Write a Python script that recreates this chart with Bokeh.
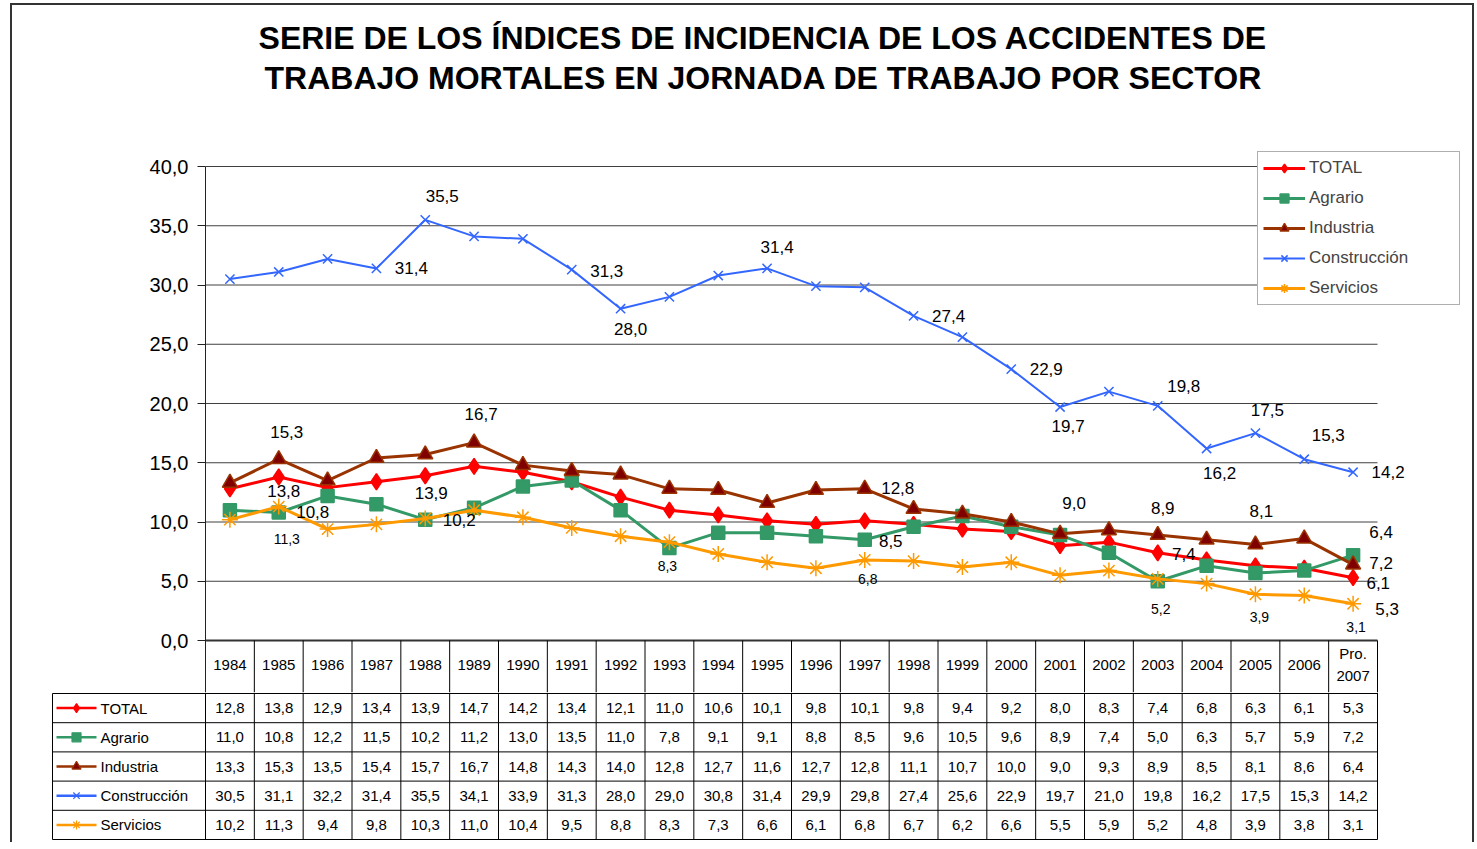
from bokeh.plotting import figure
from bokeh.models import Range1d, FixedTicker, Legend, LegendItem, ColumnDataSource
from bokeh.layouts import column
from bokeh.embed import file_html
from bokeh.resources import INLINE
from bokeh.core.properties import value

# ---------------- data ----------------
years = ["1984", "1985", "1986", "1987", "1988", "1989", "1990", "1991", "1992", "1993",
         "1994", "1995", "1996", "1997", "1998", "1999", "2000", "2001", "2002", "2003",
         "2004", "2005", "2006", "Pro.\n2007"]
total = [12.8, 13.8, 12.9, 13.4, 13.9, 14.7, 14.2, 13.4, 12.1, 11.0, 10.6, 10.1, 9.8, 10.1,
         9.8, 9.4, 9.2, 8.0, 8.3, 7.4, 6.8, 6.3, 6.1, 5.3]
agrario = [11.0, 10.8, 12.2, 11.5, 10.2, 11.2, 13.0, 13.5, 11.0, 7.8, 9.1, 9.1, 8.8, 8.5,
           9.6, 10.5, 9.6, 8.9, 7.4, 5.0, 6.3, 5.7, 5.9, 7.2]
industria = [13.3, 15.3, 13.5, 15.4, 15.7, 16.7, 14.8, 14.3, 14.0, 12.8, 12.7, 11.6, 12.7, 12.8,
             11.1, 10.7, 10.0, 9.0, 9.3, 8.9, 8.5, 8.1, 8.6, 6.4]
construccion = [30.5, 31.1, 32.2, 31.4, 35.5, 34.1, 33.9, 31.3, 28.0, 29.0, 30.8, 31.4, 29.9, 29.8,
                27.4, 25.6, 22.9, 19.7, 21.0, 19.8, 16.2, 17.5, 15.3, 14.2]
servicios = [10.2, 11.3, 9.4, 9.8, 10.3, 11.0, 10.4, 9.5, 8.8, 8.3, 7.3, 6.6, 6.1, 6.8,
             6.7, 6.2, 6.6, 5.5, 5.9, 5.2, 4.8, 3.9, 3.8, 3.1]
series_names = ["TOTAL", "Agrario", "Industria", "Construcción", "Servicios"]
y_ticks = [0, 5, 10, 15, 20, 25, 30, 35, 40]
y_tick_labels = ["0,0", "5,0", "10,0", "15,0", "20,0", "25,0", "30,0", "35,0", "40,0"]
title_lines = ["SERIE DE LOS ÍNDICES DE INCIDENCIA DE LOS ACCIDENTES DE",
               "TRABAJO MORTALES EN JORNADA DE TRABAJO POR SECTOR"]

values = dict(zip(series_names, [total, agrario, industria, construccion, servicios]))

# ---------------- styles ----------------
styles = {
    "TOTAL": dict(color="#FF0000", marker="diamond", size=16, fill="#FF0000", mline="#FF0000", lw=3),
    "Agrario": dict(color="#339966", marker="square", size=13, fill="#339966", mline="#339966", lw=3),
    "Industria": dict(color="#993300", marker="triangle", size=15, fill="#800000", mline="#993300", lw=3),
    "Construcción": dict(color="#3366FF", marker="x", size=13, fill="#3366FF", mline="#3366FF", lw=2),
    "Servicios": dict(color="#FF9900", marker="asterisk", size=16, fill="#FF9900", mline="#FF9900", lw=3),
}

# label placement: (series, index, dx px, dy px, small)
label_place = [
    ("Construcción", 4, 17, -24, False), ("Construcción", 3, 35, 0, False),
    ("Construcción", 7, 35, 1, False), ("Construcción", 8, 10, 20, False),
    ("Construcción", 11, 10, -21, False), ("Construcción", 14, 35, 0, False),
    ("Construcción", 16, 35, 0, False), ("Construcción", 17, 8, 19, False),
    ("Construcción", 19, 26, -20, False), ("Construcción", 20, 13, 24, False),
    ("Construcción", 21, 12, -23, False), ("Construcción", 22, 24, -24, False),
    ("Construcción", 23, 35, 0, False),
    ("Industria", 1, 8, -27, False), ("Industria", 5, 7, -29, False),
    ("TOTAL", 1, 5, 14, False), ("Agrario", 1, 34, -1, False), ("Servicios", 1, 8, 32, True),
    ("TOTAL", 4, 6, 17, False), ("Agrario", 4, 34, 0, False), ("Servicios", 9, -2, 24, True),
    ("Industria", 13, 33, -1, False), ("Agrario", 13, 26, 1, False), ("Servicios", 13, 3, 19, True),
    ("Industria", 17, 14, -31, False), ("Industria", 19, 5, -27, False),
    ("TOTAL", 19, 26, 1, False), ("Servicios", 19, 3, 30, True),
    ("Industria", 21, 6, -34, False), ("Servicios", 21, 4, 23, True),
    ("Industria", 23, 28, -33, False), ("Agrario", 23, 28, 8, False),
    ("TOTAL", 22, 74, 15, False), ("TOTAL", 23, 34, 31, False), ("Servicios", 23, 3, 23, True),
]


def fmt(v):
    return f"{v:.1f}".replace(".", ",")


FONT = "Liberation Sans"
n = len(years)
xs = list(range(n))

# geometry (page px)
X0, Y0 = 12, 5            # page position of figures' top-left
FIG_W = 1460
PX_X = 1172 / 24          # px per category
PX_Y = 474 / 40           # px per unit
PX_R = 29.2               # table row height
AX_L, AX_R, AX_TOP, AX_BOT = 205, 1377, 166, 640
FR_L, FR_R, FR_T, FR_B = 205, 1460, Y0, 692   # chart frame (extended for title, legend, header)
GAP_U = (FR_B - AX_BOT) / PX_Y
X_END = 23.5 + (FR_R - AX_R) / PX_X
Y_END = 40 + (AX_TOP - FR_T) / PX_Y


def px_to_y(py):
    return 40 + (AX_TOP - py) / PX_Y


def px_to_x(px):
    return -0.5 + (px - AX_L) / PX_X


# ---------------- chart figure ----------------
pA = figure(width=FIG_W, height=FR_B - Y0, title=None,
            x_range=Range1d(-0.5, X_END), y_range=Range1d(-GAP_U, Y_END),
            x_axis_location=None, output_backend="svg", toolbar_location=None,
            min_border_left=FR_L - X0, min_border_right=X0 + FIG_W - FR_R,
            min_border_top=0, min_border_bottom=0, outline_line_color=None)
pA.frame_align = False
pA.xgrid.visible = False
pA.ygrid.visible = False
pA.yaxis.bounds = (-GAP_U, 40)
pA.yaxis.ticker = FixedTicker(ticks=y_ticks)
pA.yaxis.major_label_overrides = {t: l for t, l in zip(y_ticks, y_tick_labels)}
pA.yaxis.minor_tick_line_color = None
pA.yaxis.major_tick_in = 0
pA.yaxis.major_tick_out = 8
pA.yaxis.major_label_standoff = 9
pA.yaxis.axis_line_color = "#222222"
pA.yaxis.major_tick_line_color = "#222222"
pA.yaxis.major_label_text_font = FONT
pA.yaxis.major_label_text_font_size = "20px"
pA.yaxis.major_label_text_color = "black"

# title (two bold lines)
pA.text(x=[px_to_x(763)] * 2, y=[px_to_y(37), px_to_y(77)], text=title_lines,
        text_align="center", text_baseline="middle", text_font=value(FONT),
        text_font_size="32px", text_font_style="bold", text_color="black")

# grid lines restricted to the category span
g = [t for t in y_ticks if t > 0]
pA.segment(x0=[-0.5] * len(g), y0=g, x1=[n - 0.5] * len(g), y1=g, line_color="#404040", line_width=1)
pA.segment(x0=[-0.5], y0=[0], x1=[n - 0.5], y1=[0], line_color="#333333", line_width=2)

# table header cells (years) below the axis
bounds = [i + 0.5 for i in range(n)]
pA.segment(x0=bounds, y0=[0] * n, x1=bounds, y1=[-GAP_U] * n, line_color="black", line_width=1)
pA.text(x=xs, y=[-(664 - AX_BOT) / PX_Y] * n, text=years, text_align="center", text_baseline="middle",
        text_font=value(FONT), text_font_size="15px", text_color="black", text_line_height=1.27)

items = []
for name in series_names:
    st = styles[name]
    src = ColumnDataSource(dict(x=xs, y=values[name]))
    ln = pA.line("x", "y", source=src, line_color=st["color"], line_width=st["lw"])
    mk = pA.scatter("x", "y", source=src, marker=st["marker"], size=st["size"],
                    fill_color=st["fill"], line_color=st["mline"], line_width=1.5)
    items.append(LegendItem(label=name, renderers=[ln, mk]))

for small in (False, True):
    sel = [p for p in label_place if p[4] == small]
    src = ColumnDataSource(dict(
        x=[p[1] for p in sel], y=[values[p[0]][p[1]] for p in sel],
        t=[fmt(values[p[0]][p[1]]) for p in sel],
        dx=[p[2] for p in sel], dy=[p[3] for p in sel]))
    pA.text("x", "y", text="t", source=src, x_offset="dx", y_offset="dy",
            text_align="center", text_baseline="middle", text_font=value(FONT),
            text_font_size="14px" if small else "17px", text_color="black")

legend = Legend(items=items, location=(1257 - FR_L, FR_B - 305), orientation="vertical",
                border_line_color="#606060", border_line_width=1, background_fill_color="white",
                background_fill_alpha=1, padding=5, spacing=8, margin=0,
                glyph_width=42, glyph_height=22, label_height=22, label_width=145,
                label_standoff=4, label_text_font=FONT, label_text_font_size="17px")
pA.add_layout(legend)

# ---------------- table figure ----------------
left_edge = -0.5 - 153 / PX_X
TB_L, TB_R, TB_T, TB_B = 51, 1378, 691, 839
HEAD_U = (692 - TB_T) / PX_R
pB = figure(width=FIG_W, height=TB_B - TB_T + 2,
            x_range=Range1d(-0.5 - (205 - TB_L) / PX_X, 23.5 + (TB_R - 1377) / PX_X),
            y_range=Range1d(5 + (TB_B - 838) / PX_R, -HEAD_U),
            x_axis_location=None, y_axis_location=None, output_backend="svg", toolbar_location=None,
            min_border_left=TB_L - X0, min_border_right=X0 + FIG_W - TB_R,
            min_border_top=0, min_border_bottom=2, outline_line_color=None)
pB.frame_align = False
pB.xgrid.visible = False
pB.ygrid.visible = False

vb = [i - 0.5 for i in range(n + 1)]
pB.segment(x0=vb, y0=[-HEAD_U] * len(vb), x1=vb, y1=[5] * len(vb), line_color="black", line_width=1)
rows = list(range(len(series_names) + 1))
pB.segment(x0=[left_edge] * len(rows), y0=rows, x1=[n - 0.5] * len(rows), y1=rows,
           line_color="black", line_width=1)
pB.segment(x0=[left_edge], y0=[0], x1=[left_edge], y1=[5], line_color="black", line_width=1)

tx, ty, tt = [], [], []
for r, name in enumerate(series_names):
    for i, v in enumerate(values[name]):
        tx.append(i); ty.append(r + 0.5); tt.append(fmt(v))
pB.text(x=tx, y=ty, text=tt, text_align="center", text_baseline="middle",
        text_font=value(FONT), text_font_size="15px", text_color="black")

for r, name in enumerate(series_names):
    st = styles[name]
    pB.line(x=[left_edge + 4 / PX_X, left_edge + 44 / PX_X], y=[r + 0.5, r + 0.5],
            line_color=st["color"], line_width=2.5)
    pB.scatter(x=[left_edge + 24 / PX_X], y=[r + 0.5], marker=st["marker"], size=9,
               fill_color=st["fill"], line_color=st["mline"], line_width=1.2)
    pB.text(x=[left_edge + 48 / PX_X], y=[r + 0.5], text=[name], text_align="left",
            text_baseline="middle", text_font=value(FONT), text_font_size="15px", text_color="black")

layout = column(pA, pB, margin=(3, 0, 0, 10),
                styles={"border-top": "2px solid #333333", "border-left": "2px solid #333333",
                        "border-right": "2px solid #333333"})

open("out.html", "w").write(file_html(layout, INLINE))
